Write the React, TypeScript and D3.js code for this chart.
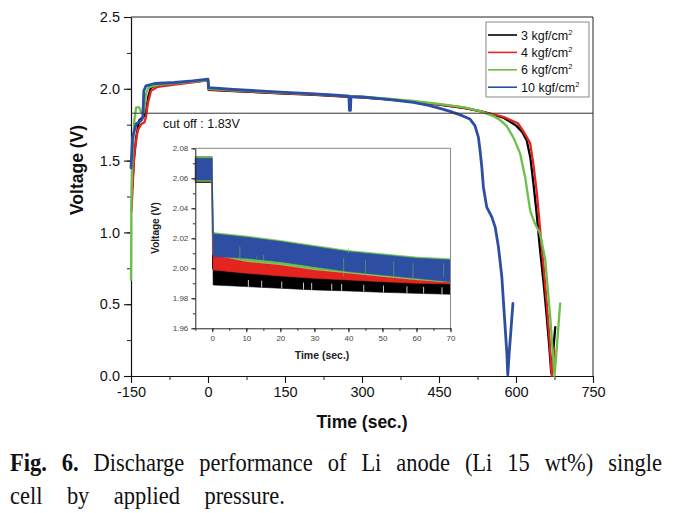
import React, { useEffect, useRef } from 'react';
import * as d3 from 'd3';

// ---------- DATA ----------
const seriesLabels = ['3 kgf/cm', '4 kgf/cm', '6 kgf/cm', '10 kgf/cm'];
const seriesColors = ['#000000', '#e3241f', '#6cc04a', '#2d4ea3'];

const time3 = [-148, -147, -144, -140, -134, -128, -124, -121, -116, -111, -100, -92, -60, -30, 0, 1, 50, 100, 150, 200, 250, 300, 350, 400, 450, 500, 530, 550, 575, 600, 612, 621, 628, 634, 640, 647, 654, 660, 665, 668.7, 672, 676.5];
const volt3 = [1.30, 1.36, 1.52, 1.66, 1.78, 1.80, 1.81, 1.835, 1.95, 2.01, 2.025, 2.03, 2.04, 2.05, 2.058, 1.993, 1.984, 1.975, 1.967, 1.959, 1.95, 1.94, 1.927, 1.91, 1.89, 1.865, 1.845, 1.825, 1.80, 1.745, 1.70, 1.64, 1.52, 1.34, 1.14, 0.875, 0.64, 0.41, 0.2, 0.02, 0.15, 0.34];

const time4 = [-149, -146, -143.5, -137, -130, -124, -121, -117.5, -111, -98, -65, -30, 0, 1, 50, 100, 150, 200, 250, 300, 350, 400, 450, 500, 550, 575, 604, 615, 627.7, 634, 640.8, 647, 653.7, 660, 665.4, 669.6, 674.5];
const volt4 = [1.15, 1.38, 1.55, 1.71, 1.755, 1.766, 1.80, 1.894, 1.986, 2.014, 2.03, 2.045, 2.058, 1.997, 1.986, 1.977, 1.969, 1.961, 1.951, 1.941, 1.928, 1.911, 1.892, 1.868, 1.828, 1.805, 1.76, 1.70, 1.62, 1.47, 1.27, 1.02, 0.76, 0.5, 0.25, 0.0, 0.18];

const time6 = [-150, -149.5, -149, -147, -143.5, -140, -134, -130, -125, -121, -116, -98, -60, -30, 0, 1, 50, 100, 150, 200, 250, 300, 350, 400, 450, 500, 530, 556, 570, 582, 595, 608, 618, 627.7, 637, 647, 657, 666.7, 672, 675, 680, 686];
const volt6 = [0.67, 1.0, 1.25, 1.55, 1.78, 1.87, 1.87, 1.835, 1.835, 1.963, 2.01, 2.028, 2.04, 2.05, 2.06, 1.999, 1.99, 1.981, 1.972, 1.964, 1.954, 1.945, 1.932, 1.915, 1.895, 1.87, 1.845, 1.81, 1.78, 1.74, 1.66, 1.55, 1.38, 1.15, 1.06, 0.99, 0.81, 0.41, 0.15, 0.0, 0.22, 0.505];

const time10 = [-150, -147, -140, -130, -127, -125, -121, -104, -65, -30, 0, 1, 50, 100, 150, 200, 250, 274.5, 275.5, 277.5, 278.5, 300, 350, 400, 430, 450, 470, 490, 510, 520, 526.8, 530, 533.4, 536.5, 543, 553, 559.4, 565.8, 572.4, 577.5, 582.2, 584, 586.7, 590.6, 594];
const volt10 = [1.45, 1.66, 1.755, 1.78, 1.80, 1.986, 2.02, 2.037, 2.044, 2.055, 2.067, 2.008, 1.995, 1.985, 1.975, 1.966, 1.955, 1.948, 1.85, 1.85, 1.946, 1.943, 1.927, 1.905, 1.885, 1.865, 1.845, 1.82, 1.79, 1.743, 1.662, 1.569, 1.454, 1.315, 1.176, 1.106, 1.037, 0.898, 0.69, 0.412, 0.157, 0.007, 0.157, 0.342, 0.505];

const cutOffVoltage = 1.83;

const xTicks = [-150, 0, 150, 300, 450, 600, 750];
const yTicks = [0.0, 0.5, 1.0, 1.5, 2.0, 2.5];

// inset: noise envelopes
const insetTimes = [-5, -0.05, 0.25, 10, 20, 30, 40, 50, 60, 70];
const blackTop = [2.059, 2.059, 1.9995, 1.997, 1.9955, 1.994, 1.993, 1.992, 1.991, 1.9905];
const blackBottom = [2.0572, 2.0572, 1.9889, 1.9878, 1.9867, 1.9856, 1.9849, 1.984, 1.9833, 1.9827];
const redTop = [2.0744, 2.0744, 2.0089, 2.0044, 2.0022, 1.9989, 1.9967, 1.9944, 1.9922, 1.9904];
const redBottom = [2.058, 2.058, 1.9989, 1.9967, 1.9949, 1.9933, 1.9922, 1.9911, 1.99, 1.9896];
const greenTop = [2.0745, 2.0745, 2.0238, 2.0215, 2.0186, 2.0152, 2.0119, 2.0097, 2.0075, 2.0064];
const greenBottom = [2.058, 2.058, 2.0092, 2.0047, 2.0025, 1.9992, 1.997, 1.9947, 1.9925, 1.9907];
const blueTop = [2.0733, 2.0733, 2.023, 2.0207, 2.0178, 2.0144, 2.0111, 2.0089, 2.0067, 2.0056];
const blueBottom = [2.0589, 2.0589, 2.0078, 2.0067, 2.0044, 2.0011, 1.9978, 1.9956, 1.9933, 1.9911];

const greenSpikeTimes = [8.1, 13, 15, 38.6, 45, 53.3, 59, 68, 40];
const greenSpikeHigh = [2.0144, 2.0078, 2.0089, 2.0067, 2.0056, 2.0044, 2.0033, 2.0033, 2.0133];
const greenSpikeLow = [2.0067, 2.0067, 2.0033, 1.9944, 1.9967, 1.9944, 1.9933, 1.9944, 2.010];
const blackGapTimes = [10.6, 14.5, 20.4, 26.8, 29.2, 35.1, 38, 44.5, 50.3, 57.2, 62.1, 67.5];

const insetXTicks = [0, 10, 20, 30, 40, 50, 60, 70];
const insetYTicks = [1.96, 1.98, 2.0, 2.02, 2.04, 2.06, 2.08];

const captionLine1 = ['Fig.', '6.', 'Discharge', 'performance', 'of', 'Li', 'anode', '(Li', '15', 'wt%)', 'single'];
const captionBold1 = [true, true, false, false, false, false, false, false, false, false, false];
const captionLine2 = ['cell', 'by', 'applied', 'pressure.'];

export default function App() {
  const ref = useRef<SVGSVGElement>(null);

  useEffect(() => {
    const svg = d3.select(ref.current);
    svg.selectAll('*').remove();
    const sans = 'Arial, "Liberation Sans", sans-serif';
    const serif = '"Times New Roman", "Liberation Serif", serif';

    svg.append('rect').attr('width', 677).attr('height', 513).attr('fill', '#fff');

    const x = d3.scaleLinear().domain([-150, 750]).range([131, 593]);
    const y = d3.scaleLinear().domain([0, 2.5]).range([376, 17]);

    svg.append('path')
      .attr('d', `M${x(-150)},${y(2.5)}H${x(750)}V${y(0)}`)
      .attr('fill', 'none').attr('stroke', '#222').attr('stroke-width', 1);

    const gxm = svg.append('g').attr('transform', `translate(0,${y(0)})`)
      .call(d3.axisBottom(x).tickValues(d3.range(-150, 751, 75)).tickSize(4).tickFormat(() => ''));
    const gym = svg.append('g').attr('transform', `translate(${x(-150)},0)`)
      .call(d3.axisLeft(y).tickValues(d3.range(0, 2.51, 0.25)).tickSize(4).tickFormat(() => ''));
    [gxm, gym].forEach(g => { g.select('.domain').remove(); g.selectAll('line').attr('stroke', '#222'); });

    const gx = svg.append('g').attr('transform', `translate(0,${y(0)})`)
      .call(d3.axisBottom(x).tickValues(xTicks).tickSize(7).tickPadding(4).tickSizeOuter(0).tickFormat(d3.format('d')));
    const gy = svg.append('g').attr('transform', `translate(${x(-150)},0)`)
      .call(d3.axisLeft(y).tickValues(yTicks).tickSize(7).tickPadding(4).tickSizeOuter(0).tickFormat(d3.format('.1f')));
    [gx, gy].forEach(g => {
      g.select('.domain').attr('stroke', '#111').attr('stroke-width', 1.2);
      g.selectAll('line').attr('stroke', '#111').attr('stroke-width', 1.1);
      g.selectAll('text').attr('font-family', sans).attr('font-size', 14.5).attr('fill', '#111');
    });
    gx.selectAll('text').text((d: any) => (d < 0 ? '-' + Math.abs(d) : String(d)));

    svg.append('text').text('Time (sec.)').attr('x', 362).attr('y', 428)
      .attr('text-anchor', 'middle').attr('font-family', sans).attr('font-weight', 'bold').attr('font-size', 17.5).attr('fill', '#111');
    svg.append('text').text('Voltage (V)').attr('transform', 'translate(83,170) rotate(-90)')
      .attr('text-anchor', 'middle').attr('font-family', sans).attr('font-weight', 'bold').attr('font-size', 17.5).attr('fill', '#111');

    const times = [time3, time4, time6, time10];
    const volts = [volt3, volt4, volt6, volt10];
    const lineLin = d3.line<[number, number]>().x(d => x(d[0])).y(d => y(d[1]));
    times.forEach((ts, i) => {
      const pts: [number, number][] = ts.map((t, j) => [t, volts[i][j]]);
      svg.append('path').attr('d', lineLin(pts) as string).attr('fill', 'none')
        .attr('stroke', seriesColors[i]).attr('stroke-width', i === 3 ? 2.8 : 2.3)
        .attr('stroke-linejoin', 'round').attr('stroke-linecap', 'round');
    });

    svg.append('line').attr('x1', x(-150)).attr('x2', x(750)).attr('y1', y(cutOffVoltage)).attr('y2', y(cutOffVoltage))
      .attr('stroke', '#333').attr('stroke-width', 1);
    svg.append('text').text(`cut off : ${cutOffVoltage.toFixed(2)}V`).attr('x', 163).attr('y', 128)
      .attr('font-family', sans).attr('font-size', 12.5).attr('fill', '#111');

    const lg = svg.append('g');
    lg.append('rect').attr('x', 486).attr('y', 22).attr('width', 103).attr('height', 75)
      .attr('fill', '#fff').attr('stroke', '#888').attr('stroke-width', 1);
    seriesLabels.forEach((lab, i) => {
      const yy = 35 + i * 17.4;
      lg.append('line').attr('x1', 488).attr('x2', 517).attr('y1', yy).attr('y2', yy)
        .attr('stroke', seriesColors[i]).attr('stroke-width', 1.6);
      const t = lg.append('text').attr('x', 521).attr('y', yy + 4.5).attr('font-family', sans)
        .attr('font-size', 12.5).attr('fill', '#111').text(lab);
      t.append('tspan').attr('dy', -5).attr('font-size', 7.5).text('2');
    });

    // ---------- inset ----------
    const ix = d3.scaleLinear().domain([-5, 70]).range([195.3, 450.5]);
    const iy = d3.scaleLinear().domain([1.96, 2.08]).range([328.3, 148.3]);
    svg.append('rect').attr('x', ix(-5)).attr('y', iy(2.08)).attr('width', ix(70) - ix(-5)).attr('height', iy(1.96) - iy(2.08)).attr('fill', '#fff');

    const tops = [blackTop, redTop, greenTop, blueTop];
    const bottoms = [blackBottom, redBottom, greenBottom, blueBottom];
    tops.forEach((tp, i) => {
      const bt = bottoms[i];
      const a = d3.area<number>()
        .x((_, j) => ix(insetTimes[j]))
        .y0((_, j) => iy(bt[j]))
        .y1((_, j) => iy(tp[j]));
      svg.append('path').attr('d', a(tp) as string).attr('fill', seriesColors[i])
        .attr('stroke', seriesColors[i]).attr('stroke-width', 0.6);
      svg.append('line').attr('x1', ix(0)).attr('x2', ix(0.1)).attr('y1', iy(bt[1])).attr('y2', iy(tp[2]))
        .attr('stroke', seriesColors[i]).attr('stroke-width', 1.2);
      if (i === 0) {
        blackGapTimes.forEach(t => {
          const j = d3.bisectRight(insetTimes, t) - 1;
          const f = (t - insetTimes[j]) / (insetTimes[j + 1] - insetTimes[j]);
          const b = bt[j] + f * (bt[j + 1] - bt[j]);
          svg.append('line').attr('x1', ix(t)).attr('x2', ix(t)).attr('y1', iy(b)).attr('y2', iy(b + 0.0045))
            .attr('stroke', '#fff').attr('stroke-width', 0.8);
        });
      }
    });
    greenSpikeTimes.forEach((t, k) => {
      svg.append('line').attr('x1', ix(t)).attr('x2', ix(t)).attr('y1', iy(greenSpikeLow[k])).attr('y2', iy(greenSpikeHigh[k]))
        .attr('stroke', seriesColors[2]).attr('stroke-width', 0.7).attr('opacity', 0.8);
    });

    svg.append('path').attr('d', `M${ix(-5)},${iy(2.08)}H${ix(70)}V${iy(1.96)}`)
      .attr('fill', 'none').attr('stroke', '#888').attr('stroke-width', 1);
    const igxm = svg.append('g').attr('transform', `translate(0,${iy(1.96)})`)
      .call(d3.axisBottom(ix).tickValues(d3.range(-5, 71, 5)).tickSize(2.5).tickFormat(() => ''));
    const igym = svg.append('g').attr('transform', `translate(${ix(-5)},0)`)
      .call(d3.axisLeft(iy).tickValues(d3.range(1.96, 2.0801, 0.01)).tickSize(2.5).tickFormat(() => ''));
    [igxm, igym].forEach(g => { g.select('.domain').remove(); g.selectAll('line').attr('stroke', '#333'); });
    const igx = svg.append('g').attr('transform', `translate(0,${iy(1.96)})`)
      .call(d3.axisBottom(ix).tickValues(insetXTicks).tickSize(4).tickPadding(3).tickSizeOuter(0).tickFormat(d3.format('d')));
    const igy = svg.append('g').attr('transform', `translate(${ix(-5)},0)`)
      .call(d3.axisLeft(iy).tickValues(insetYTicks).tickSize(4).tickPadding(3).tickSizeOuter(0).tickFormat(d3.format('.2f')));
    [igx, igy].forEach(g => {
      g.select('.domain').attr('stroke', '#222').attr('stroke-width', 1);
      g.selectAll('line').attr('stroke', '#222');
      g.selectAll('text').attr('font-family', sans).attr('font-size', 8).attr('fill', '#444');
    });
    svg.append('text').text('Time (sec.)').attr('x', 322).attr('y', 359)
      .attr('text-anchor', 'middle').attr('font-family', sans).attr('font-weight', 'bold').attr('font-size', 10.5).attr('fill', '#222');
    svg.append('text').text('Voltage (V)').attr('transform', 'translate(159,228) rotate(-90)')
      .attr('text-anchor', 'middle').attr('font-family', sans).attr('font-weight', 'bold').attr('font-size', 10).attr('fill', '#222');

    // ---------- caption (justified, slightly condensed) ----------
    const fs = 25;
    const sx = 0.9;
    const placeLine = (words: string[], bold: boolean[], y0: number, x0: number, x1: number) => {
      const nodes = words.map((w, i) => svg.append('text').text(w)
        .attr('font-family', serif).attr('font-size', fs).attr('fill', '#111')
        .attr('font-weight', bold[i] ? 'bold' : 'normal'));
      const widths = nodes.map(n => (n.node() as SVGTextElement).getComputedTextLength() * sx);
      const total = d3.sum(widths);
      const gap = (x1 - x0 - total) / (words.length - 1);
      let cx = x0;
      nodes.forEach((n, i) => { n.attr('transform', `translate(${cx},${y0}) scale(${sx},1)`); cx += widths[i] + gap; });
    };
    placeLine(captionLine1, captionBold1, 471, 10, 662);
    placeLine(captionLine2, captionLine2.map(() => false), 504, 10, 285);
  }, []);

  return (
    <svg ref={ref} width={677} height={513}
      style={{ position: 'absolute', left: 0, top: 0, display: 'block' }} />
  );
}
